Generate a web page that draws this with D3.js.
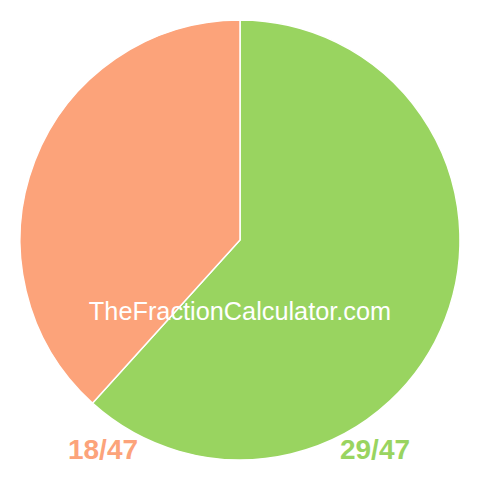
<!DOCTYPE html>
<html>
<head>
<meta charset="utf-8">
<script src="https://cdn.jsdelivr.net/npm/d3@7"></script>
<style>
  body { margin: 0; background: #fff; }
  svg { display: block; }
</style>
</head>
<body>
<svg width="480" height="480"></svg>
<script>
// slices, clockwise from 12 o'clock
const labels = ['29/47', '18/47'];
const values = [29, 18];
const colors = ['#99d460', '#fca37a'];

const width = 480;
const height = 480;
const radius = 220;

const svg = d3.select('svg');

const chart = svg.append('g')
    .attr('transform', `translate(${width / 2} ${height / 2})`);

const pie = d3.pie().sort(null)(values);
const arc = d3.arc().innerRadius(0).outerRadius(radius);

// the slices
chart.selectAll('path')
    .data(pie)
    .enter()
    .append('path')
    .attr('d', arc)
    .attr('fill', (d, i) => colors[i])
    .attr('stroke', '#fff')
    .attr('stroke-width', 1.5);

// watermark
svg.append('text')
    .attr('x', width / 2)
    .attr('y', 320)
    .attr('text-anchor', 'middle')
    .attr('font-family', 'Liberation Sans, Arial, sans-serif')
    .attr('font-size', 25.3)
    .attr('fill', '#fff')
    .text('TheFractionCalculator.com');

// fraction labels under the pie
const labelX = [375, 103];
svg.selectAll('.frac')
    .data(labels)
    .enter()
    .append('text')
    .attr('class', 'frac')
    .attr('x', (d, i) => labelX[i])
    .attr('y', 459)
    .attr('text-anchor', 'middle')
    .attr('font-family', 'Liberation Sans, Arial, sans-serif')
    .attr('font-weight', 'bold')
    .attr('font-size', 28)
    .attr('fill', (d, i) => colors[i])
    .text((d) => d);
</script>
</body>
</html>
